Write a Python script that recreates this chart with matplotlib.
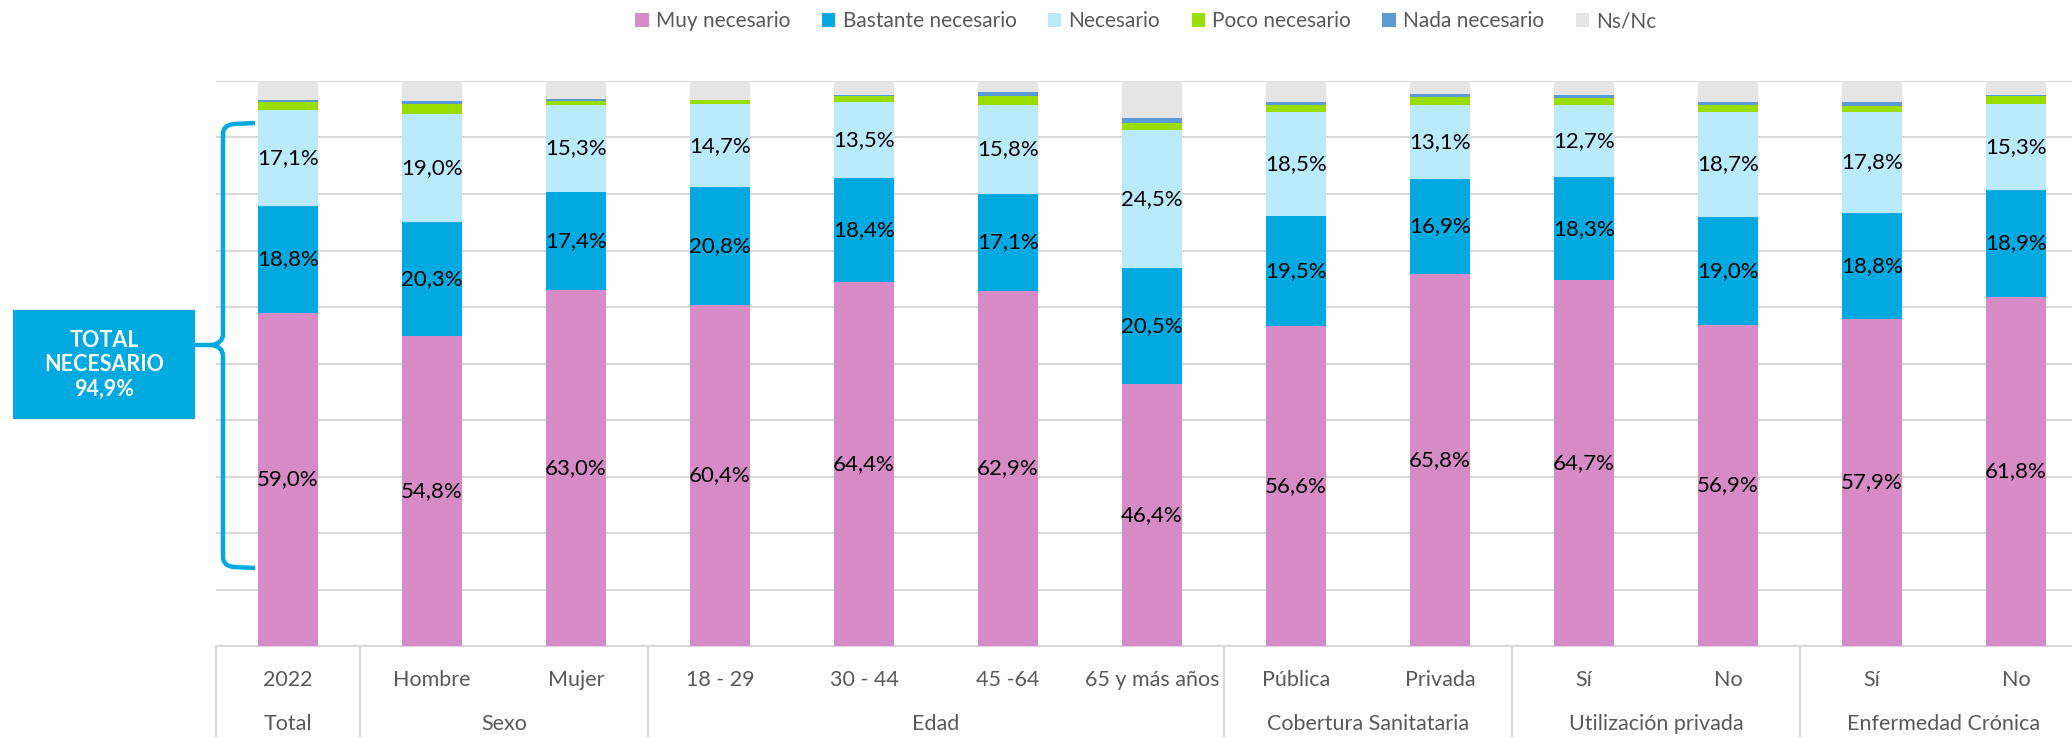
import matplotlib
matplotlib.use("Agg")
import matplotlib.pyplot as plt
import numpy as np
from matplotlib.patches import Patch, Rectangle, PathPatch
from matplotlib.path import Path
import matplotlib.transforms as mtransforms

plt.rcParams['font.family'] = ['Lato', 'DejaVu Sans']

# ---------------- data ----------------
categories = ["2022", "Hombre", "Mujer", "18 - 29", "30 - 44", "45 -64", "65 y más años",
              "Pública", "Privada", "Sí", "No", "Sí", "No"]
groups = ["Total", "Sexo", "Edad", "Cobertura Sanitataria", "Utilización privada", "Enfermedad Crónica"]
group_sizes = [1, 2, 4, 2, 2, 2]

series_names = ["Muy necesario", "Bastante necesario", "Necesario", "Poco necesario",
                "Nada necesario", "Ns/Nc"]
muy_necesario = [59.0, 54.8, 63.0, 60.4, 64.4, 62.9, 46.4, 56.6, 65.8, 64.7, 56.9, 57.9, 61.8]
bastante_necesario = [18.8, 20.3, 17.4, 20.8, 18.4, 17.1, 20.5, 19.5, 16.9, 18.3, 19.0, 18.8, 18.9]
necesario = [17.1, 19.0, 15.3, 14.7, 13.5, 15.8, 24.5, 18.5, 13.1, 12.7, 18.7, 17.8, 15.3]
poco_necesario = [1.4, 1.8, 0.8, 0.8, 1.0, 1.5, 1.2, 1.2, 1.3, 1.3, 1.2, 1.1, 1.3]
nada_necesario = [0.4, 0.6, 0.3, 0.0, 0.3, 0.7, 0.8, 0.4, 0.6, 0.6, 0.4, 0.7, 0.2]
ns_nc = [3.3, 3.5, 3.2, 3.3, 2.4, 2.0, 6.6, 3.8, 2.3, 2.4, 3.8, 3.7, 2.5]
total_necesario_label = "TOTAL\nNECESARIO\n94,9%"

series = [muy_necesario, bastante_necesario, necesario, poco_necesario, nada_necesario, ns_nc]
colors = ["#D68BC6", "#00A9E0", "#BAEBFD", "#9ADE00", "#5B9BD5", "#E5E5E5"]
labeled = [True, True, True, False, False, False]

W, H = 2072, 737
fig = plt.figure(figsize=(W / 100, H / 100), dpi=100)

def fx(x):
    return x / W

def fy(y):
    return 1 - y / H

ax_left, ax_right, ax_top, ax_bottom = 216, 2088, 81, 646
ax = fig.add_axes([fx(ax_left), fy(ax_bottom), (ax_right - ax_left) / W, (ax_bottom - ax_top) / H])

x = np.arange(len(categories))
bottom = np.zeros(len(categories))
for vals, col, lab, name in zip(series, colors, labeled, series_names):
    vals = np.array(vals)
    ax.bar(x, vals, width=0.41, bottom=bottom, color=col, zorder=3, label=name)
    if lab:
        for xi, b, v in zip(x, bottom, vals):
            ax.text(xi, b + v / 2, f"{v:.1f}%".replace(".", ","), ha="center", va="center",
                    fontsize=16, color="black", zorder=4)
    bottom += vals

ax.set_xlim(-0.5, len(categories) - 0.5)
ax.set_ylim(0, 100)
ax.set_yticks(np.arange(0, 101, 10))
ax.yaxis.grid(True, color="#D9D9D9", linewidth=1.5, zorder=0)
ax.set_axisbelow(True)
ax.tick_params(axis="both", length=0, labelleft=False, labelbottom=False)
for s in ["left", "right", "top"]:
    ax.spines[s].set_visible(False)
ax.spines["bottom"].set_color("#D9D9D9")
ax.spines["bottom"].set_linewidth(1.5)

trans = mtransforms.blended_transform_factory(ax.transData, ax.transAxes)
axh = ax_bottom - ax_top
tick_y = -(680 - ax_bottom) / axh
group_y = -(724 - ax_bottom) / axh
sep_bottom = -(H - ax_bottom) / axh

for xi, c in zip(x, categories):
    ax.text(xi, tick_y, c, transform=trans, ha="center", va="center", fontsize=15.5,
            color="#595959")

start = 0
edges = [-0.5]
for g, n in zip(groups, group_sizes):
    center = start + (n - 1) / 2
    ax.text(center, group_y, g, transform=trans, ha="center", va="center", fontsize=15.5,
            color="#595959")
    start += n
    edges.append(start - 0.5)
for e in edges:
    ax.plot([e, e], [0, sep_bottom], transform=trans, color="#D9D9D9", linewidth=1.5,
            clip_on=False, zorder=1)

# legend
handles = [Patch(facecolor=c, edgecolor="none") for c in colors]
fig.legend(handles, series_names, loc="center", bbox_to_anchor=(fx(1146), fy(21)), ncol=6,
           frameon=False, fontsize=15, handlelength=0.65, handleheight=0.65,
           handletextpad=0.35, columnspacing=1.5, labelcolor="#595959")

# TOTAL NECESARIO box
box_col = "#00A9E0"
fig.add_artist(Rectangle((fx(13), fy(419)), (195 - 13) / W, (419 - 310) / H,
                         transform=fig.transFigure, facecolor=box_col, edgecolor="none"))
fig.text(fx(104), fy(364.5), total_necesario_label, ha="center", va="center",
         fontsize=15.5, fontweight="bold", color="white", linespacing=1.2)

# brace
bx, tip_x, hook_x = 223, 195, 255
top_y, mid_y, bot_y = 123, 345, 568
r = 11
verts = [
    (hook_x, top_y), (bx + r, top_y + 1),
    (bx, top_y + 2), (bx, top_y + r),
    (bx, mid_y - r),
    (bx, mid_y - 2), (bx - r, mid_y),
    (tip_x, mid_y),
    (bx - r, mid_y), (bx, mid_y + 2), (bx, mid_y + r),
    (bx, bot_y - r),
    (bx, bot_y - 2), (bx + r, bot_y - 1), (hook_x, bot_y),
]
codes = [Path.MOVETO, Path.LINETO, Path.CURVE3, Path.CURVE3, Path.LINETO,
         Path.CURVE3, Path.CURVE3, Path.LINETO,
         Path.MOVETO, Path.CURVE3, Path.CURVE3, Path.LINETO,
         Path.CURVE3, Path.CURVE3, Path.LINETO]
path = Path([(fx(a), fy(b)) for a, b in verts], codes)
fig.add_artist(PathPatch(path, transform=fig.transFigure, facecolor="none",
                         edgecolor=box_col, linewidth=3.2, capstyle="butt", joinstyle="round"))

fig.savefig("out.png", dpi=100)
